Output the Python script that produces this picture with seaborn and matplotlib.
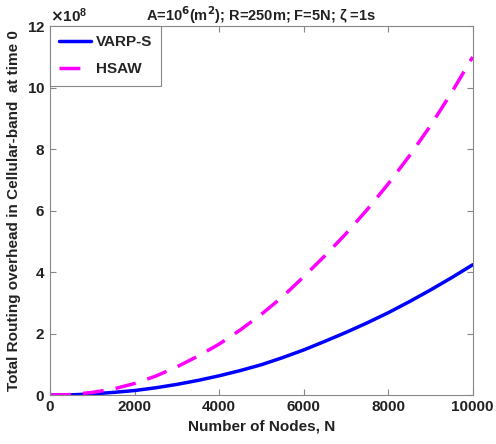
import numpy as np
import pandas as pd
import matplotlib
matplotlib.use('Agg')
import matplotlib.pyplot as plt
import seaborn as sns

nodes = [0, 500, 1000, 1500, 2000, 2500, 3000, 3500, 4000, 4500, 5000,
         5500, 6000, 6500, 7000, 7500, 8000, 8500, 9000, 9500, 10000]
# overhead in units of 1e8
varp_s = [0, 0.01, 0.04, 0.09, 0.15, 0.24, 0.35, 0.48, 0.63, 0.80, 0.99,
          1.22, 1.47, 1.75, 2.04, 2.35, 2.68, 3.04, 3.42, 3.82, 4.24]
hsaw = [0, 0.02, 0.09, 0.20, 0.38, 0.62, 0.92, 1.27, 1.66, 2.12, 2.63,
        3.20, 3.85, 4.53, 5.25, 6.03, 6.87, 7.78, 8.76, 9.84, 11.0]

df = pd.DataFrame({
    'N': nodes * 2,
    'overhead': np.array(varp_s + hsaw) * 1e8,
    'scheme': ['VARP-S'] * len(nodes) + ['HSAW'] * len(nodes),
})

sns.set_style('ticks')
plt.rcParams['font.family'] = ['Liberation Sans', 'DejaVu Sans']
plt.rcParams['font.weight'] = 'bold'
plt.rcParams['mathtext.default'] = 'bf'

fig = plt.figure(figsize=(4.96, 4.44), dpi=100)
ax = fig.add_axes([0.101, 0.110, 0.852, 0.831])

sns.lineplot(data=df[df.scheme == 'VARP-S'], x='N', y='overhead', color='#0000ff',
             lw=2.5, label='VARP-S', ax=ax)
sns.lineplot(data=df[df.scheme == 'HSAW'], x='N', y='overhead', color='#ff00ff',
             lw=2.5, ls=(0, (6, 3.5)), label='HSAW', ax=ax)

ax.set_xlim(0, 10000)
ax.set_ylim(0, 12e8)
ax.set_xticks([0, 2000, 4000, 6000, 8000, 10000])
ax.set_yticks(np.arange(0, 13, 2) * 1e8)
ax.ticklabel_format(axis='y', style='sci', scilimits=(8, 8), useMathText=True)
ax.yaxis.get_offset_text().set_fontsize(11)
ax.yaxis.get_offset_text().set_fontweight('bold')

for s in ax.spines.values():
    s.set_visible(True)
    s.set_color('#888888')
    s.set_linewidth(0.8)
ax.tick_params(direction='in', top=True, right=True, colors='#888888',
               labelcolor='#222222', labelsize=11, length=4)
for lab in ax.get_xticklabels() + ax.get_yticklabels():
    lab.set_fontweight('bold')

ax.set_xlabel('Number of Nodes, N', fontsize=11, fontweight='bold', color='#222222')
ax.set_ylabel('Total Routing overhead in Cellular-band  at time 0', fontsize=11,
              fontweight='bold', color='#222222')
ax.set_title('A=10$^{6}$(m$^{2}$); R=250m; F=5N; \u03b6 =1s', fontsize=10.5,
             fontweight='bold', color='#222222', pad=4)

leg = ax.legend(loc='upper left', handlelength=2.1, handletextpad=0.3,
                borderaxespad=0, borderpad=0.6, labelspacing=0.85,
                fancybox=False, framealpha=1, edgecolor='#888888',
                prop={'weight': 'bold', 'size': 11})
leg.get_frame().set_linewidth(0.8)

fig.savefig('out.png', dpi=100)
